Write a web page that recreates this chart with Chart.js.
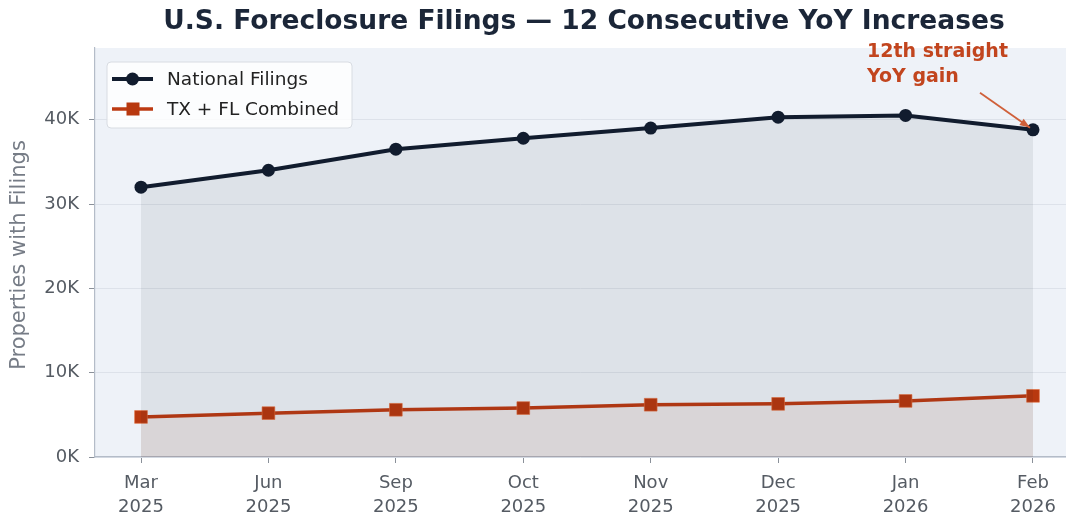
<!DOCTYPE html>
<html>
<head>
<meta charset="utf-8">
<script src="https://cdn.jsdelivr.net/npm/chart.js@4/dist/chart.umd.min.js"></script>
<style>
html,body{margin:0;padding:0;background:#fff;overflow:hidden;}
#wrap{width:1066px;height:519px;position:relative;}
</style>
</head>
<body>
<div id="wrap"><canvas id="c" width="1066" height="519"></canvas></div>
<script>
const categories = [["Mar","2025"],["Jun","2025"],["Sep","2025"],["Oct","2025"],["Nov","2025"],["Dec","2025"],["Jan","2026"],["Feb","2026"]];
const nationalFilings = [32000, 34000, 36500, 37800, 39000, 40300, 40500, 38800];
const txFlCombined = [4750, 5200, 5600, 5800, 6200, 6300, 6650, 7250];
const yTicks = [0, 10000, 20000, 30000, 40000];
const titleText = "U.S. Foreclosure Filings \u2014 12 Consecutive YoY Increases";
const annotationLines = ["12th straight", "YoY gain"];
const yTitle = "Properties with Filings";

const FONT = "'DejaVu Sans', sans-serif";
const NAVY = "#111c2e";
const RED = "#bd3a12";

const toPts = arr => arr.map((v, i) => ({x: i, y: v}));

const decor = {
  id: 'decor',
  beforeDraw(chart) {
    const {ctx, chartArea: a} = chart;
    ctx.save();
    ctx.fillStyle = '#eef2f8';
    ctx.fillRect(a.left, a.top, a.right - a.left, a.bottom - a.top);
    ctx.restore();
  },
  afterDraw(chart) {
    const {ctx, scales} = chart;
    ctx.save();
    // title
    ctx.fillStyle = '#1b2638';
    ctx.font = "bold 26.5px " + FONT;
    ctx.textAlign = 'center';
    ctx.textBaseline = 'alphabetic';
    ctx.fillText(titleText, 584, 29);
    // y title
    ctx.save();
    ctx.translate(20, 255);
    ctx.rotate(-Math.PI / 2);
    ctx.fillStyle = '#767c86';
    ctx.font = "21px " + FONT;
    ctx.textAlign = 'center';
    ctx.textBaseline = 'middle';
    ctx.fillText(yTitle, 0, 0);
    ctx.restore();
    // annotation
    const last = nationalFilings.length - 1;
    const px = scales.x.getPixelForValue(last);
    const py = scales.y.getPixelForValue(nationalFilings[last]);
    ctx.fillStyle = '#c2451e';
    ctx.font = "bold 19px " + FONT;
    ctx.textAlign = 'left';
    ctx.textBaseline = 'alphabetic';
    ctx.fillText(annotationLines[0], px - 166, py - 73);
    ctx.fillText(annotationLines[1], px - 166, py - 48);
    // arrow
    const x0 = px - 53, y0 = py - 37, x1 = px - 3, y1 = py - 2;
    ctx.strokeStyle = '#d0603a';
    ctx.fillStyle = '#d0603a';
    ctx.lineWidth = 1.8;
    ctx.beginPath(); ctx.moveTo(x0, y0); ctx.lineTo(x1, y1); ctx.stroke();
    const ang = Math.atan2(y1 - y0, x1 - x0);
    ctx.beginPath();
    ctx.moveTo(x1, y1);
    ctx.lineTo(x1 - 11 * Math.cos(ang - 0.35), y1 - 11 * Math.sin(ang - 0.35));
    ctx.lineTo(x1 - 11 * Math.cos(ang + 0.35), y1 - 11 * Math.sin(ang + 0.35));
    ctx.closePath(); ctx.fill();
    // legend
    const lx = 107, ly = 62, lw = 245, lh = 66;
    ctx.beginPath();
    ctx.roundRect(lx, ly, lw, lh, 4);
    ctx.fillStyle = 'rgba(255,255,255,0.82)';
    ctx.fill();
    ctx.strokeStyle = '#d8dce2';
    ctx.lineWidth = 1;
    ctx.stroke();
    const ds = chart.data.datasets;
    const rows = [79, 109];
    ds.forEach((d, i) => {
      const y = rows[i];
      ctx.strokeStyle = d.borderColor;
      ctx.lineWidth = d.borderWidth;
      ctx.beginPath(); ctx.moveTo(112, y); ctx.lineTo(153, y); ctx.stroke();
      ctx.fillStyle = d.pointBackgroundColor;
      if (d.pointStyle === 'rect') {
        ctx.fillRect(126.5, y - 6.5, 13, 13);
      } else {
        ctx.beginPath(); ctx.arc(132.5, y, 6.5, 0, Math.PI * 2); ctx.fill();
      }
      ctx.fillStyle = '#222';
      ctx.font = "18.5px " + FONT;
      ctx.textAlign = 'left';
      ctx.textBaseline = 'middle';
      ctx.fillText(d.label, 167, y + 1);
    });
    ctx.restore();
  }
};

new Chart(document.getElementById('c'), {
  type: 'line',
  data: {
    datasets: [
      {
        label: 'National Filings',
        data: toPts(nationalFilings),
        borderColor: NAVY,
        borderWidth: 4,
        backgroundColor: 'rgba(17,28,46,0.075)',
        fill: 'origin',
        pointStyle: 'circle',
        pointRadius: 6.5,
        pointBackgroundColor: NAVY,
        pointBorderColor: NAVY,
        pointBorderWidth: 0,
        tension: 0
      },
      {
        label: 'TX + FL Combined',
        data: toPts(txFlCombined),
        borderColor: RED,
        borderWidth: 3.5,
        backgroundColor: 'rgba(190,60,20,0.08)',
        fill: 'origin',
        pointStyle: 'rect',
        pointRadius: 9,
        pointBackgroundColor: '#b8380f',
        pointBorderColor: 'rgba(230,110,60,0.6)',
        pointBorderWidth: 1,
        tension: 0
      }
    ]
  },
  options: {
    responsive: false,
    animation: false,
    layout: {autoPadding: false, padding: {top: 48, right: 0, left: 0, bottom: 0}},
    plugins: {legend: {display: false}, tooltip: {enabled: false}, title: {display: false}},
    scales: {
      x: {
        type: 'linear',
        min: -0.361,
        max: 7.259,
        afterBuildTicks: s => { s.ticks = categories.map((c, i) => ({value: i})); },
        afterFit: s => { s.height = 62; s.paddingLeft = 0; s.paddingRight = 0; },
        ticks: {
          autoSkip: false,
          maxRotation: 0,
          padding: 8,
          color: '#555b63',
          font: {family: FONT, size: 18, lineHeight: 1.33},
          callback: v => categories[v] || ''
        },
        grid: {drawOnChartArea: false, drawTicks: true, tickLength: 6, tickColor: '#8a9099', tickWidth: 1},
        border: {display: true, color: '#b4bcc8', width: 1.2}
      },
      y: {
        min: 0,
        max: 48500,
        afterBuildTicks: s => { s.ticks = yTicks.map(v => ({value: v})); },
        afterFit: s => { s.width = 95; s.paddingTop = 0; s.paddingBottom = 0; },
        ticks: {
          color: '#555b63',
          padding: 10,
          font: {family: FONT, size: 18},
          callback: v => (v / 1000) + 'K'
        },
        grid: {color: '#dde2ea', lineWidth: 1, drawTicks: true, tickLength: 6, tickColor: '#8a9099'},
        border: {display: true, color: '#b4bcc8', width: 1.2}
      }
    }
  },
  plugins: [decor]
});
</script>
</body>
</html>
